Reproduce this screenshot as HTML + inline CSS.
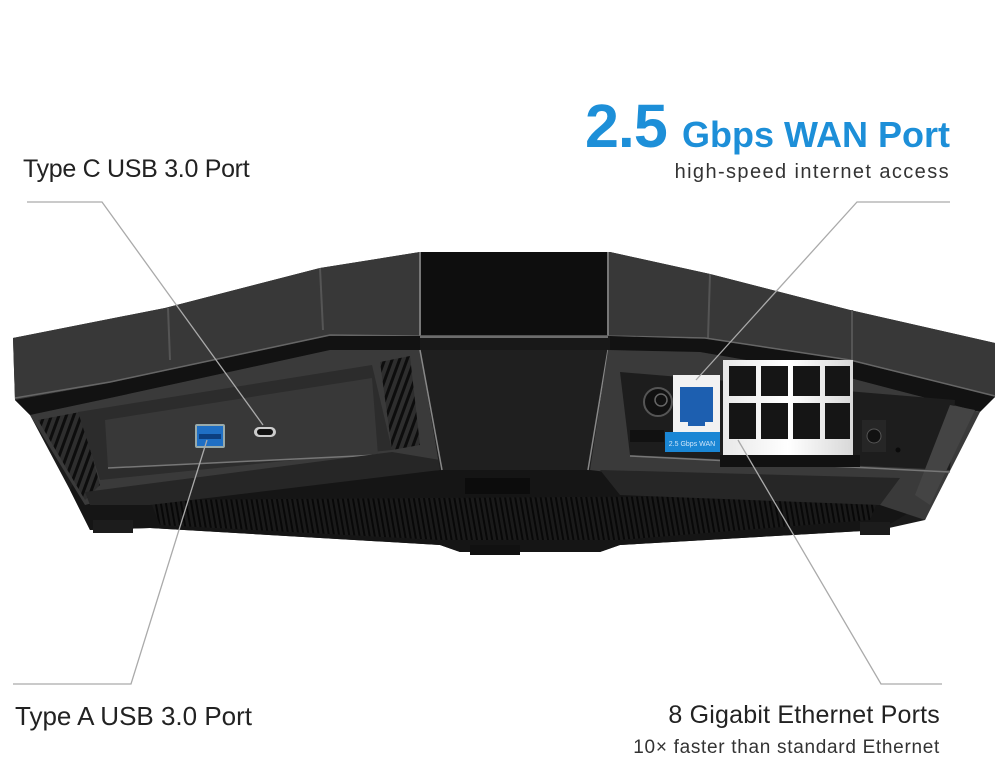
<!DOCTYPE html>
<html><head><meta charset="utf-8"><style>
html,body{margin:0;padding:0;background:#fff;}
svg{display:block;}
text{font-family:"Liberation Sans",sans-serif;}
</style></head><body>
<svg width="1000" height="767" viewBox="0 0 1000 767" xmlns="http://www.w3.org/2000/svg">
<defs>
<pattern id="vent" width="7" height="7" patternUnits="userSpaceOnUse" patternTransform="rotate(20)">
<rect width="7" height="7" fill="#2e2e2e"/><rect width="3" height="7" fill="#0d0d0d"/>
</pattern>
<pattern id="vent2" width="5" height="5" patternUnits="userSpaceOnUse" patternTransform="rotate(-10)">
<rect width="5" height="5" fill="#1a1a1a"/><rect width="2" height="5" fill="#080808"/>
</pattern>
<linearGradient id="lan" x1="0" x2="1" y1="0" y2="0">
<stop offset="0" stop-color="#e8e8e8"/><stop offset="0.5" stop-color="#ffffff"/><stop offset="1" stop-color="#d8d8d8"/>
</linearGradient>
</defs>

<polygon points="13,338 165,308 320,268 420,252 610,252 710,274 850,310 995,343 995,397 975,412 925,520 880,530 620,545 600,552 460,552 440,545 150,528 90,530 70,490 30,415 15,400" fill="#1b1b1b"/>

<polygon points="80,470 930,470 930,500 880,530 620,545 600,552 460,552 440,545 150,528 90,530 70,490" fill="#151515"/>
<polygon points="150,500 880,495 870,520 620,540 440,540 160,525" fill="url(#vent2)"/>
<rect x="93" y="520" width="40" height="13" fill="#1c1c1c"/>
<rect x="860" y="522" width="30" height="13" fill="#1c1c1c"/>
<rect x="470" y="545" width="50" height="10" fill="#111"/>

<polygon points="13,338 165,308 320,268 420,252 610,252 710,274 850,310 995,343 995,397 850,360 705,338 610,335 420,335 330,336 110,383 15,400" fill="#383838"/>
<polygon points="420,252 608,252 608,335 420,335" fill="#0e0e0e"/>
<line x1="420" y1="252" x2="420" y2="336" stroke="#777" stroke-width="2"/>
<line x1="608" y1="252" x2="608" y2="336" stroke="#777" stroke-width="2"/>
<line x1="168" y1="308" x2="170" y2="360" stroke="#555" stroke-width="2"/>
<line x1="320" y1="268" x2="323" y2="330" stroke="#555" stroke-width="2"/>
<line x1="710" y1="274" x2="708" y2="338" stroke="#555" stroke-width="2"/>
<line x1="852" y1="310" x2="852" y2="362" stroke="#555" stroke-width="2"/>
<polyline points="15,398 110,382 330,335 420,336 610,336 705,338 850,360 995,396" fill="none" stroke="#666" stroke-width="1.5"/>
<polygon points="15,400 110,383 330,336 420,336 420,350 330,350 110,398 30,415" fill="#121212"/>
<polygon points="610,336 705,339 850,361 995,397 980,412 850,378 700,352 610,350" fill="#121212"/>
<rect x="420" y="336" width="190" height="14" fill="#181818"/>
<line x1="420" y1="337" x2="608" y2="337" stroke="#888" stroke-width="1.5"/>

<polygon points="30,415 110,398 330,350 420,350 440,470 300,478 150,488 85,505" fill="#3a3a3a"/>
<polygon points="38,420 80,412 100,485 85,500" fill="url(#vent)"/>
<polygon points="380,362 410,356 420,445 392,450" fill="url(#vent)"/>
<polygon points="78,412 372,365 392,450 100,480" fill="#2c2c2c"/>
<polygon points="105,420 372,378 378,455 108,468" fill="#383838"/>
<line x1="108" y1="468" x2="378" y2="455" stroke="#777" stroke-width="1.5"/>
<polygon points="85,492 392,452 440,460 440,470 150,505 90,505" fill="#262626"/>

<polygon points="420,350 608,350 590,470 440,470" fill="#1f1f1f"/>
<line x1="420" y1="350" x2="442" y2="470" stroke="#888" stroke-width="1.5"/>
<line x1="608" y1="350" x2="588" y2="470" stroke="#888" stroke-width="1.5"/>
<rect x="465" y="478" width="65" height="16" fill="#0c0c0c"/>

<polygon points="608,350 700,352 850,378 980,412 925,520 880,505 590,470" fill="#3a3a3a"/>
<polygon points="620,372 955,400 950,470 630,455" fill="#1d1d1d"/>
<polygon points="950,405 975,410 930,505 915,495" fill="#444"/>
<line x1="630" y1="456" x2="950" y2="472" stroke="#777" stroke-width="1.5"/>
<polygon points="600,470 900,478 880,505 620,495" fill="#262626"/>

<rect x="195" y="424" width="30" height="24" rx="2" fill="#9aa"/>
<rect x="197" y="426" width="26" height="20" fill="#1f6fc4"/>
<rect x="199" y="434" width="22" height="5" fill="#0c3f80"/>
<rect x="254" y="427" width="22" height="10" rx="5" fill="#ccc"/>
<rect x="257" y="429" width="16" height="6" rx="3" fill="#111"/>

<circle cx="658" cy="402" r="14" fill="#111" stroke="#555" stroke-width="2"/>
<circle cx="661" cy="400" r="6" fill="none" stroke="#666" stroke-width="1.5"/>
<rect x="630" y="430" width="34" height="12" fill="#111"/>
<rect x="673" y="375" width="47" height="57" fill="#f2f2f2"/>
<rect x="680" y="387" width="33" height="35" fill="#1d5fb0"/>
<rect x="688" y="418" width="17" height="8" fill="#1d5fb0"/>
<rect x="665" y="432" width="55" height="20" fill="#1a86d4"/>
<text x="692" y="446" font-size="7" fill="#cfe6fa" text-anchor="middle">2.5 Gbps WAN</text>
<rect x="723" y="360" width="130" height="95" fill="url(#lan)"/>
<g fill="#151515">
<rect x="729" y="366" width="27" height="30"/><rect x="761" y="366" width="27" height="30"/><rect x="793" y="366" width="27" height="30"/><rect x="825" y="366" width="25" height="30"/>
<rect x="729" y="403" width="27" height="36"/><rect x="761" y="403" width="27" height="36"/><rect x="793" y="403" width="27" height="36"/><rect x="825" y="403" width="25" height="36"/>
</g>
<rect x="720" y="455" width="140" height="12" fill="#111"/>
<rect x="862" y="420" width="24" height="32" fill="#262626"/>
<circle cx="874" cy="436" r="7" fill="#111" stroke="#555"/>
<circle cx="898" cy="450" r="2.5" fill="#0a0a0a"/>

<g stroke="#aaa" stroke-width="1.3" fill="none">
<polyline points="27,202 102,202 263,425"/>
<polyline points="13,684 131,684 207,440"/>
<polyline points="950,202 857,202 696,380"/>
<polyline points="942,684 881,684 738,440"/>
</g>

<text x="23" y="177" font-size="25" fill="#222" letter-spacing="-0.3">Type C USB 3.0 Port</text>
<text x="585" y="147" font-size="61" font-weight="bold" fill="#1d8fd8" letter-spacing="-1">2.5</text>
<text x="950" y="147" font-size="36" font-weight="bold" fill="#1d8fd8" text-anchor="end">Gbps WAN Port</text>
<text x="950" y="178" font-size="20" fill="#333" text-anchor="end" letter-spacing="1.4">high-speed internet access</text>
<text x="15" y="725" font-size="26" fill="#222" letter-spacing="0">Type A USB 3.0 Port</text>
<text x="940" y="723" font-size="25" fill="#222" text-anchor="end" letter-spacing="0.2">8 Gigabit Ethernet Ports</text>
<text x="940" y="753" font-size="19" fill="#333" text-anchor="end" letter-spacing="0.7">10× faster than standard Ethernet</text>
</svg>
</body></html>
